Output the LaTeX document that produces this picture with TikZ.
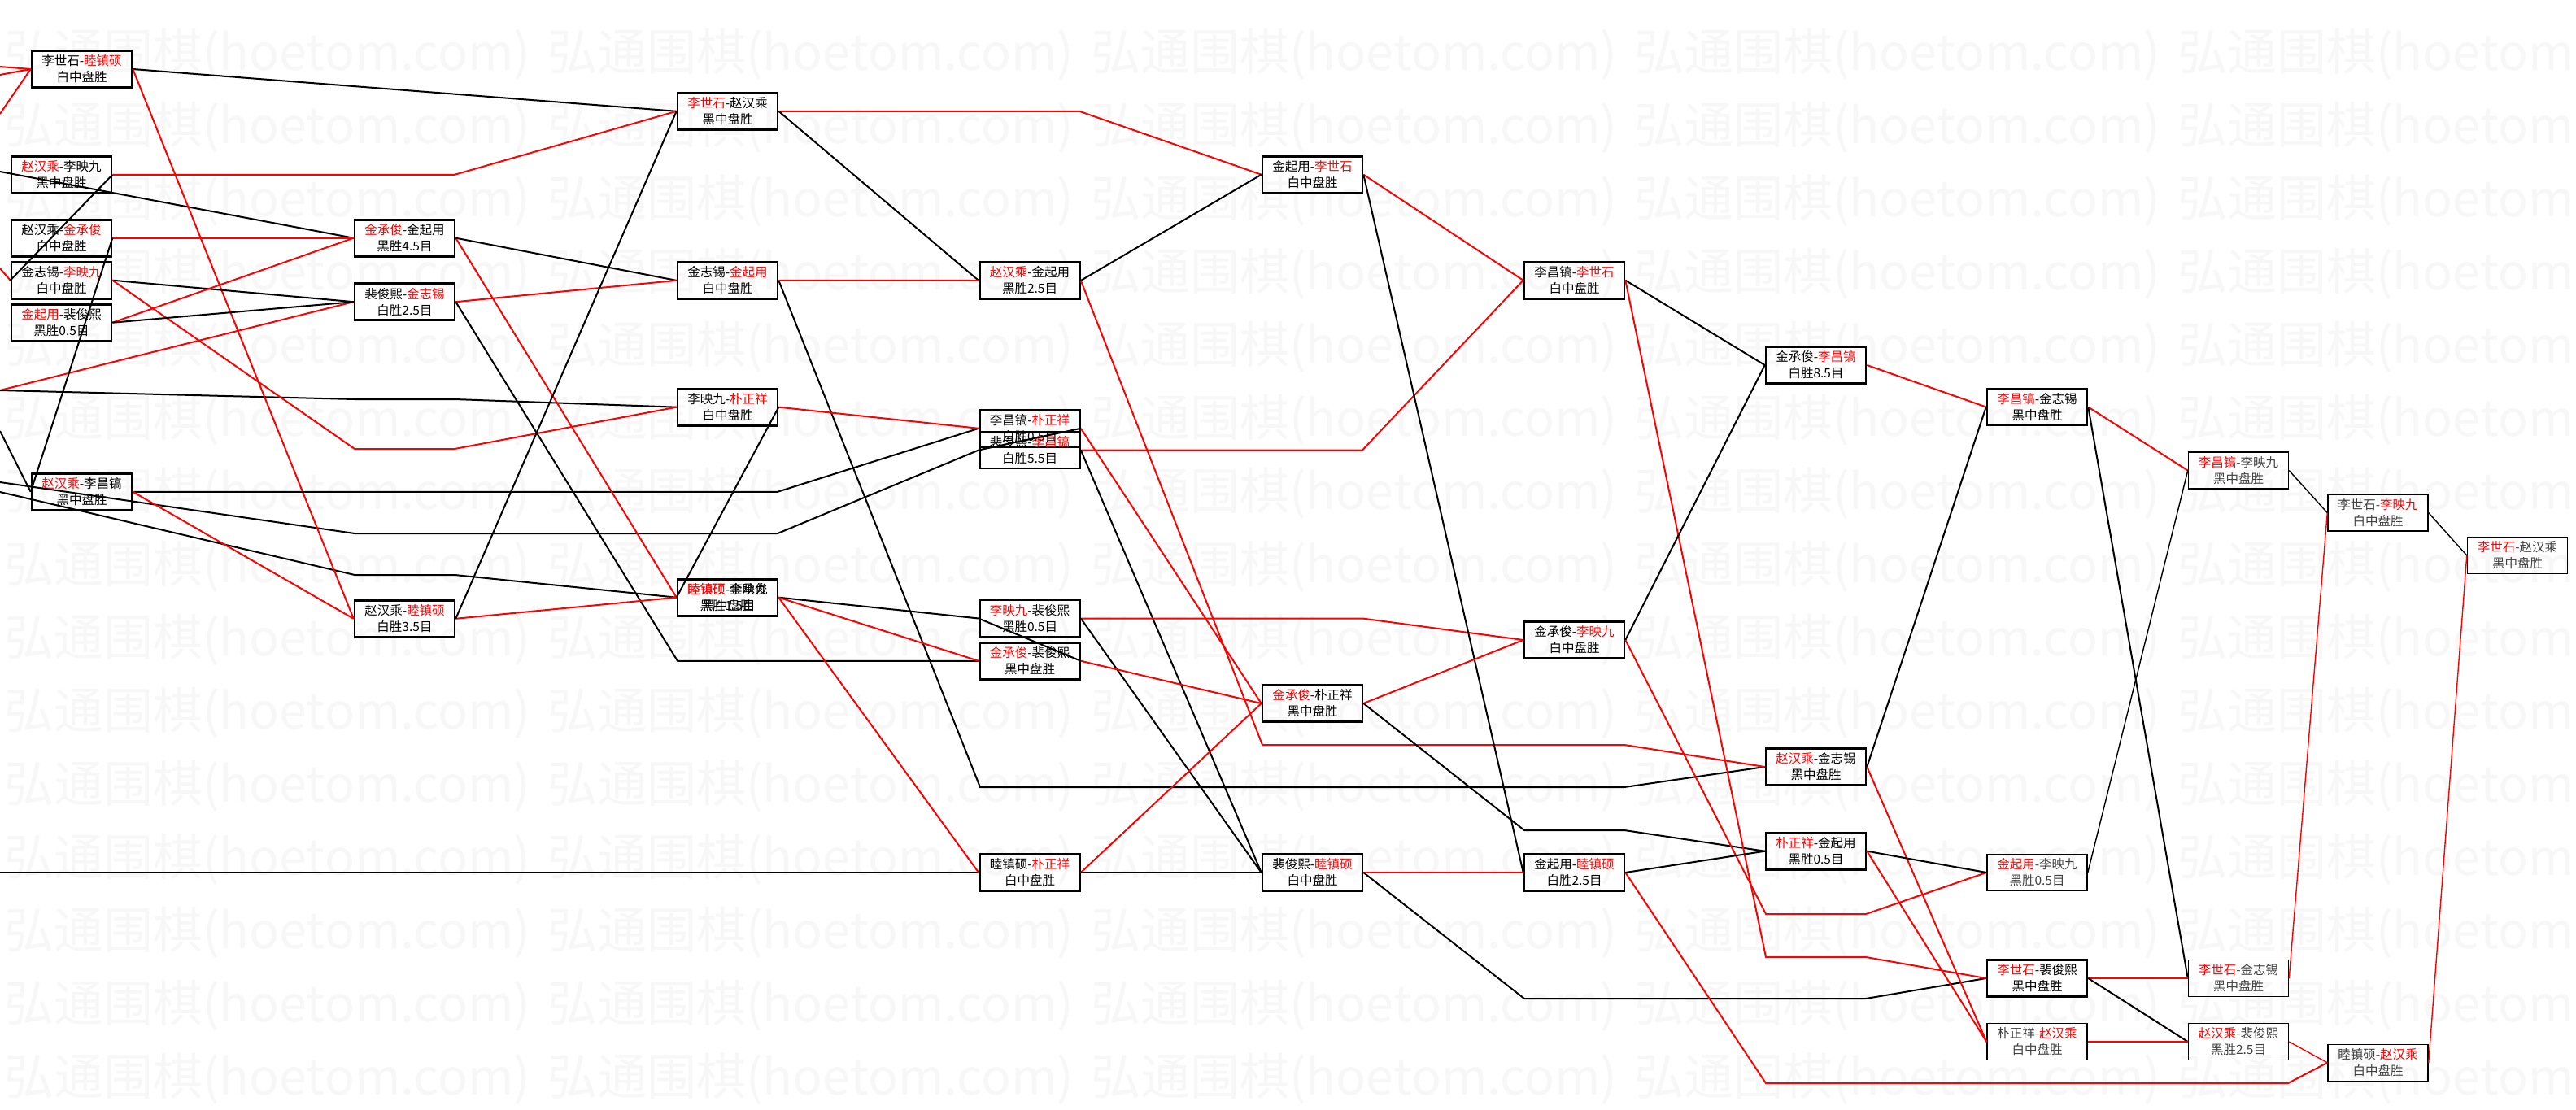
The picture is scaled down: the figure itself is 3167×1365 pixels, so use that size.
\documentclass[tikz,border=0pt]{standalone}
\usepackage{fontspec}
\setmainfont{Noto Sans CJK SC}
\usetikzlibrary{positioning}

\newcommand{\winner}[1]{\textcolor{red}{#1}}

\begin{document}
\begin{tikzpicture}[
    x=1pt, y=-1pt,
    game/.style={
        rectangle,
        draw,
        line width=2.6pt,
        align=center,
        inner sep=0pt,
        minimum width=123pt,
        minimum height=45pt,
        font=\fontsize{15.5}{20}\selectfont
    },
    later/.style={game, line width=1.5pt, text=black!75},
    won/.style={red, line width=2pt},
    lost/.style={black, line width=2pt},
    faint/.style={line width=1.4pt},
    wmark/.style={anchor=west, text=black!3, inner sep=0pt,
        font=\fontsize{61}{61}\selectfont}
]

\def\colAa{100.5}
\def\colAb{75.5}
\def\colB{497.5}
\def\colC{894.5}
\def\colD{1266}
\def\colE{1613.5}
\def\colF{1935.5}
\def\colG{2232.5}
\def\colH{2504.5}
\def\colI{2752}
\def\colJ{2923.5}
\def\colK{3095}

\fill[white] (0,0) rectangle (3167,1365);
\useasboundingbox (0,0) rectangle (3167,1365);

%% ===== watermark =====
\foreach \row in {0,...,14} {
  \foreach \col in {0,...,4} {
    \node[wmark] (wm-\row-\col) at (5+668*\col, 67+90*\row) {弘通围棋(hoetom.com)};
  }
}

%% ===== ROUND 1 =====
\node[game] (a) at (\colAa,85)  {李世石-\winner{睦镇硕}\\白中盘胜};
\node[game] (b) at (\colAb,214.8) {\winner{赵汉乘}-李映九\\黑中盘胜};
\node[game] (c) at (\colAb,292.7) {赵汉乘-\winner{金承俊}\\白中盘胜};
\node[game] (d) at (\colAb,344.7) {金志锡-\winner{李映九}\\白中盘胜};
\node[game] (e) at (\colAb,396.7) {\winner{金起用}-裴俊熙\\黑胜0.5目};
\node[game] (f) at (\colAa,604.8) {\winner{赵汉乘}-李昌镐\\黑中盘胜};

%% ===== ROUND 2 =====
\node[game] (g) at (\colB,292.7) {\winner{金承俊}-金起用\\黑胜4.5目};
\node[game] (h) at (\colB,371.2) {裴俊熙-\winner{金志锡}\\白胜2.5目};
\node[game] (i) at (\colB,760.8) {赵汉乘-\winner{睦镇硕}\\白胜3.5目};

%% ===== ROUND 3 =====
\node[game] (j) at (\colC,136.8) {\winner{李世石}-赵汉乘\\黑中盘胜};
\node[game] (k) at (\colC,344.9) {金志锡-\winner{金起用}\\白中盘胜};
\node[game] (l) at (\colC,500.7) {李映九-\winner{朴正祥}\\白中盘胜};
\node[game] (m) at (\colC,734.7) {\winner{睦镇硕}-李映九\\黑中盘胜};
\node[game] (m2) at (\colC,734.7) {\winner{睦镇硕}-金承俊\\黑胜1.5目};

%% ===== ROUND 4 =====
\node[game] (n) at (\colD,345)   {\winner{赵汉乘}-金起用\\黑胜2.5目};
\node[game] (o) at (\colD,526.8) {李昌镐-\winner{朴正祥}\\白胜0.5目};
\node[game] (o2) at (\colD,553.5) {裴俊熙-\winner{李昌镐}\\白胜5.5目};
\node[game] (p) at (\colD,760.5) {\winner{李映九}-裴俊熙\\黑胜0.5目};
\node[game] (q) at (\colD,812.8) {\winner{金承俊}-裴俊熙\\黑中盘胜};
\node[game] (r) at (\colD,1073)  {睦镇硕-\winner{朴正祥}\\白中盘胜};

%% ===== ROUND 5 =====
\node[game] (s) at (\colE,214.7) {金起用-\winner{李世石}\\白中盘胜};
\node[game] (t) at (\colE,865)   {\winner{金承俊}-朴正祥\\黑中盘胜};
\node[game] (u) at (\colE,1073)  {裴俊熙-\winner{睦镇硕}\\白中盘胜};

%% ===== ROUND 6 =====
\node[game] (v) at (\colF,344.7) {李昌镐-\winner{李世石}\\白中盘胜};
\node[game] (w) at (\colF,787)   {金承俊-\winner{李映九}\\白中盘胜};
\node[game] (x) at (\colF,1073)  {金起用-\winner{睦镇硕}\\白胜2.5目};

%% ===== ROUND 7 =====
\node[game] (y) at (\colG,449)    {金承俊-\winner{李昌镐}\\白胜8.5目};
\node[game] (z) at (\colG,943)    {\winner{赵汉乘}-金志锡\\黑中盘胜};
\node[game] (aa) at (\colG,1046.7) {\winner{朴正祥}-金起用\\黑胜0.5目};

%% ===== ROUND 8 =====
\node[game] (bb) at (\colH,500.5)  {\winner{李昌镐}-金志锡\\黑中盘胜};
\node[later] (cc) at (\colH,1073)  {\winner{金起用}-李映九\\黑胜0.5目};
\node[game] (dd) at (\colH,1203)   {\winner{李世石}-裴俊熙\\黑中盘胜};
\node[later] (ee) at (\colH,1281)  {朴正祥-\winner{赵汉乘}\\白中盘胜};

%% ===== ROUND 9 - 11 =====
\node[later] (ff) at (\colI,578.6) {\winner{李昌镐}-李映九\\黑中盘胜};
\node[later] (gg) at (\colI,1203)  {\winner{李世石}-金志锡\\黑中盘胜};
\node[later] (hh) at (\colI,1281)  {\winner{赵汉乘}-裴俊熙\\黑胜2.5目};
\node[later] (ii) at (\colJ,630.6) {李世石-\winner{李映九}\\白中盘胜};
\node[later] (jj) at (\colJ,1306.8) {睦镇硕-\winner{赵汉乘}\\白中盘胜};
\node[later] (kk) at (\colK,683)   {\winner{李世石}-赵汉乘\\黑中盘胜};

%% ===== lines from off the chart =====
\coordinate (in1) at (0,82);
\coordinate (in2) at (0,92);
\coordinate (in3) at (0,140);
\coordinate (in4) at (0,211);
\coordinate (in5) at (0,330);
\coordinate (in6) at (0,480);
\coordinate (in7) at (0,530);
\coordinate (in8) at (0,593);
\coordinate (in9) at (0,605);
\coordinate (in10) at (0,1073);

\draw[won] (in1) -- (a.west);
\draw[won] (in2) -- (a.west);
\draw[won] (in3) -- (a.west);
\draw[lost] (in4) -- (g.west);
\draw[won] (in5) -- (d.west);
\draw[won] (in6) -- (h.west);
\draw[lost] (in6) -- (436,491) -- (559,491) -- (l.west);
\draw[lost] (in7) -- (f.west);
\draw[lost] (in8) -- (436,656) -- (956,656) -- (o2.west);
\draw[lost] (in9) -- (436,707) -- (559,707) -- (m.west);
\draw[lost] (in10) -- (r.west);

%% ===== round 1 out =====
\draw[lost] (a.east) -- (j.west);
\draw[won] (a.east) -- (i.west);
\draw[won] (b.east) -- (559,214.8) -- (j.west);
\draw[lost] (b.east) -- (d.west);
\draw[won] (c.east) -- (g.west);
\draw[lost] (c.east) -- (f.west);
\draw[lost] (d.east) -- (h.west);
\draw[won] (d.east) -- (436,552) -- (559,552) -- (l.west);
\draw[won] (e.east) -- (g.west);
\draw[lost] (e.east) -- (h.west);
\draw[lost] (f.east) -- (956,604.8) -- (o.west);
\draw[won] (f.east) -- (i.west);

%% ===== round 2 out =====
\draw[won] (g.east) -- (m.west);
\draw[lost] (g.east) -- (k.west);
\draw[won] (h.east) -- (k.west);
\draw[lost] (h.east) -- (833,812.8) -- (q.west);
\draw[won] (i.east) -- (m.west);
\draw[lost] (i.east) -- (j.west);

%% ===== round 3 out =====
\draw[won] (j.east) -- (1327,136.8) -- (s.west);
\draw[lost] (j.east) -- (n.west);
\draw[won] (k.east) -- (n.west);
\draw[lost] (k.east) -- (1205,968) -- (1997,968) -- (z.west);
\draw[won] (l.east) -- (o.west);
\draw[lost] (l.east) -- (m.west);
\draw[lost] (m.east) -- (p.west);
\draw[won] (m.east) -- (q.west);
\draw[won] (m.east) -- (r.west);

%% ===== round 4 out =====
\draw[lost] (n.east) -- (s.west);
\draw[won] (n.east) -- (1552,916) -- (1997,916) -- (z.west);
\draw[won] (o.east) -- (t.west);
\draw[lost] (o.east) -- (o2.west);
\draw[won] (o2.east) -- (1675,553.5) -- (v.west);
\draw[lost] (o2.east) -- (u.west);
\draw[won] (p.east) -- (1675,760.5) -- (w.west);
\draw[lost] (p.east) -- (u.west);
\draw[won] (q.east) -- (t.west);
\draw[lost] (q.east) -- (p.west);
\draw[won] (r.east) -- (t.west);
\draw[lost] (r.east) -- (u.west);

%% ===== round 5 out =====
\draw[won] (s.east) -- (v.west);
\draw[lost] (s.east) -- (x.west);
\draw[won] (t.east) -- (w.west);
\draw[lost] (t.east) -- (1874,1021) -- (1997,1021) -- (aa.west);
\draw[won] (u.east) -- (x.west);
\draw[lost] (u.east) -- (1874,1228) -- (2294,1228) -- (dd.west);

%% ===== round 6 out =====
\draw[lost] (v.east) -- (y.west);
\draw[won] (v.east) -- (2171,1177) -- (2294,1177) -- (dd.west);
\draw[lost] (w.east) -- (y.west);
\draw[won] (w.east) -- (2171,1124) -- (2294,1124) -- (cc.west);
\draw[lost] (x.east) -- (aa.west);
\draw[won] (x.east) -- (2171,1332) -- (2813,1332) -- (jj.west);

%% ===== round 7 out =====
\draw[won] (y.east) -- (bb.west);
\draw[lost] (z.east) -- (bb.west);
\draw[won] (z.east) -- (ee.west);
\draw[lost] (aa.east) -- (cc.west);
\draw[won] (aa.east) -- (ee.west);

%% ===== round 8 and later =====
\draw[won] (bb.east) -- (ff.west);
\draw[lost] (bb.east) -- (gg.west);
\draw[lost, faint] (cc.east) -- (ff.west);
\draw[won] (dd.east) -- (gg.west);
\draw[lost] (dd.east) -- (hh.west);
\draw[won] (ee.east) -- (hh.west);
\draw[lost, faint] (ff.east) -- (ii.west);
\draw[won, faint] (gg.east) -- (ii.west);
\draw[won, faint] (hh.east) -- (jj.west);
\draw[lost, faint] (ii.east) -- (kk.west);
\draw[won, faint] (jj.east) -- (kk.west);

\end{tikzpicture}
\end{document}
